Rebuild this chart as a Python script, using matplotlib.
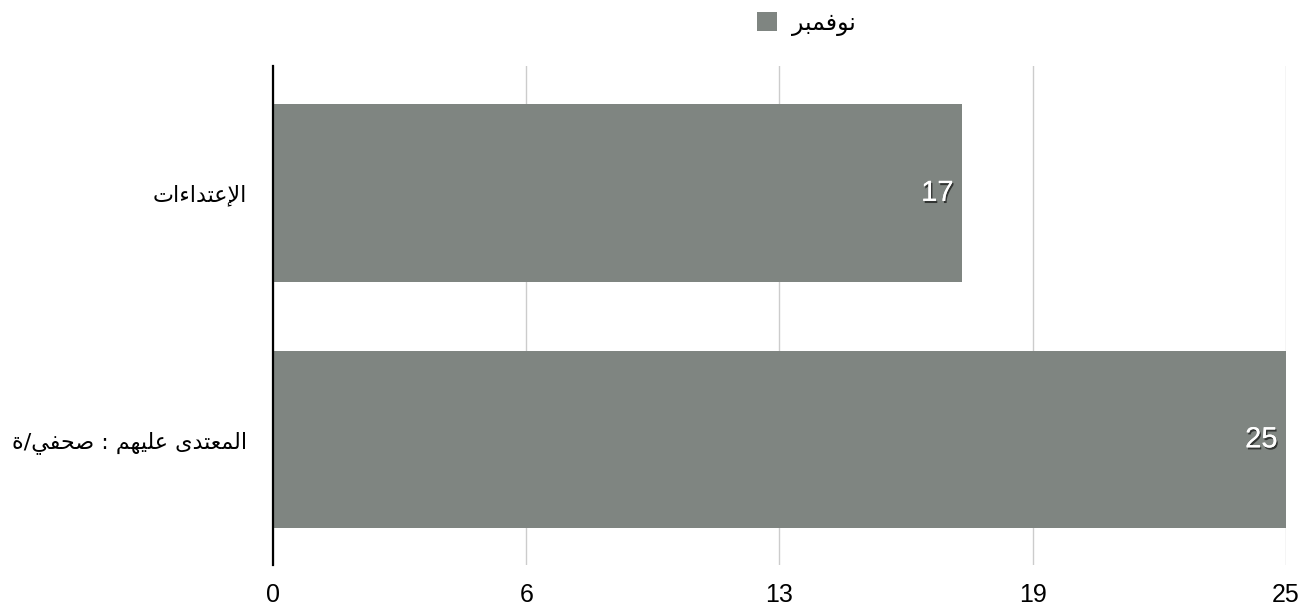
import numpy as np
import matplotlib
matplotlib.use("Agg")
import matplotlib.pyplot as plt
import matplotlib.patheffects as pe

# chart data
categories = ["الإعتداءات", "المعتدى عليهم : صحفي/ة"]
values = [17, 25]
series_name = "نوفمبر"
x_max = 25
tick_labels = ["0", "6", "13", "19", "25"]

bar_color = "#7f8581"

# presentation forms: isolated, final, initial, medial
FORMS = {
    "ا": ("\uFE8D", "\uFE8E", None, None),
    "إ": ("\uFE87", "\uFE88", None, None),
    "د": ("\uFEA9", "\uFEAA", None, None),
    "ر": ("\uFEAD", "\uFEAE", None, None),
    "و": ("\uFEED", "\uFEEE", None, None),
    "ة": ("\uFE93", "\uFE94", None, None),
    "ى": ("\uFEEF", "\uFEF0", "\uFBE8", "\uFBE9"),
    "ء": ("\uFE80", None, None, None),
    "ل": ("\uFEDD", "\uFEDE", "\uFEDF", "\uFEE0"),
    "ع": ("\uFEC9", "\uFECA", "\uFECB", "\uFECC"),
    "ت": ("\uFE95", "\uFE96", "\uFE97", "\uFE98"),
    "م": ("\uFEE1", "\uFEE2", "\uFEE3", "\uFEE4"),
    "ي": ("\uFEF1", "\uFEF2", "\uFEF3", "\uFEF4"),
    "ه": ("\uFEE9", "\uFEEA", "\uFEEB", "\uFEEC"),
    "ص": ("\uFEB9", "\uFEBA", "\uFEBB", "\uFEBC"),
    "ح": ("\uFEA1", "\uFEA2", "\uFEA3", "\uFEA4"),
    "ف": ("\uFED1", "\uFED2", "\uFED3", "\uFED4"),
    "ن": ("\uFEE5", "\uFEE6", "\uFEE7", "\uFEE8"),
    "ب": ("\uFE8F", "\uFE90", "\uFE91", "\uFE92"),
}
LAM_ALEF = {"ا": ("\uFEFB", "\uFEFC"), "إ": ("\uFEF9", "\uFEFA")}


def joins_next(c):
    return c in FORMS and FORMS[c][2] is not None


def joins_prev(c):
    return c in FORMS and FORMS[c][1] is not None


def shape(text):
    # join letters, then reverse for right-to-left display
    out = []
    i = 0
    while i < len(text):
        c = text[i]
        prev = text[i - 1] if i > 0 else ""
        nxt = text[i + 1] if i + 1 < len(text) else ""
        if c not in FORMS:
            out.append(c)
            i += 1
            continue
        p = joins_next(prev) and joins_prev(c)
        if c == "ل" and nxt in LAM_ALEF:
            out.append(LAM_ALEF[nxt][1 if p else 0])
            i += 2
            continue
        n = joins_next(c) and joins_prev(nxt)
        iso, fin, ini, med = FORMS[c]
        if p and n:
            out.append(med)
        elif p:
            out.append(fin)
        elif n:
            out.append(ini)
        else:
            out.append(iso)
        i += 1
    return "".join(out)[::-1]


fig = plt.figure(figsize=(13.07, 6.07), dpi=100)
ax = fig.add_axes([0.2089, 0.0692, 0.775, 0.822])

y = np.arange(len(categories))
bars = ax.barh(y, values, height=0.72, color=bar_color, zorder=2,
               label=shape(series_name))

ax.set_xlim(0, x_max)
ax.set_ylim(1.51, -0.515)
ax.set_xticks(np.linspace(0, x_max, len(tick_labels)))
ax.set_xticklabels(tick_labels, fontsize=18, family="Liberation Sans")
ax.set_yticks(y)
ax.set_yticklabels([shape(c) for c in categories], fontsize=16,
                   family="DejaVu Sans")
ax.tick_params(axis="both", length=0)
ax.tick_params(axis="x", pad=13)
ax.tick_params(axis="y", pad=19)

ax.grid(axis="x", color="#cccccc", linewidth=1, zorder=0)
for side in ("top", "right", "bottom"):
    ax.spines[side].set_visible(False)
ax.spines["left"].set_linewidth(1.6)
ax.spines["left"].set_zorder(3)

shadow = [pe.withSimplePatchShadow(offset=(1, -1.5), shadow_rgbFace="black",
                                   alpha=0.6), pe.Normal()]
for b, v in zip(bars, values):
    ax.annotate(str(v), xy=(v, b.get_y() + b.get_height() / 2),
                xytext=(-6, 0), textcoords="offset points",
                ha="right", va="center", color="white", fontsize=21,
                family="Liberation Sans", path_effects=shadow, zorder=4)

leg = fig.legend(loc="center", bbox_to_anchor=(0.617, 0.962), frameon=False,
                 prop={"family": "DejaVu Sans", "size": 17},
                 handlelength=0.85, handleheight=0.85, handletextpad=0.6)

fig.savefig("out.png", dpi=100)
